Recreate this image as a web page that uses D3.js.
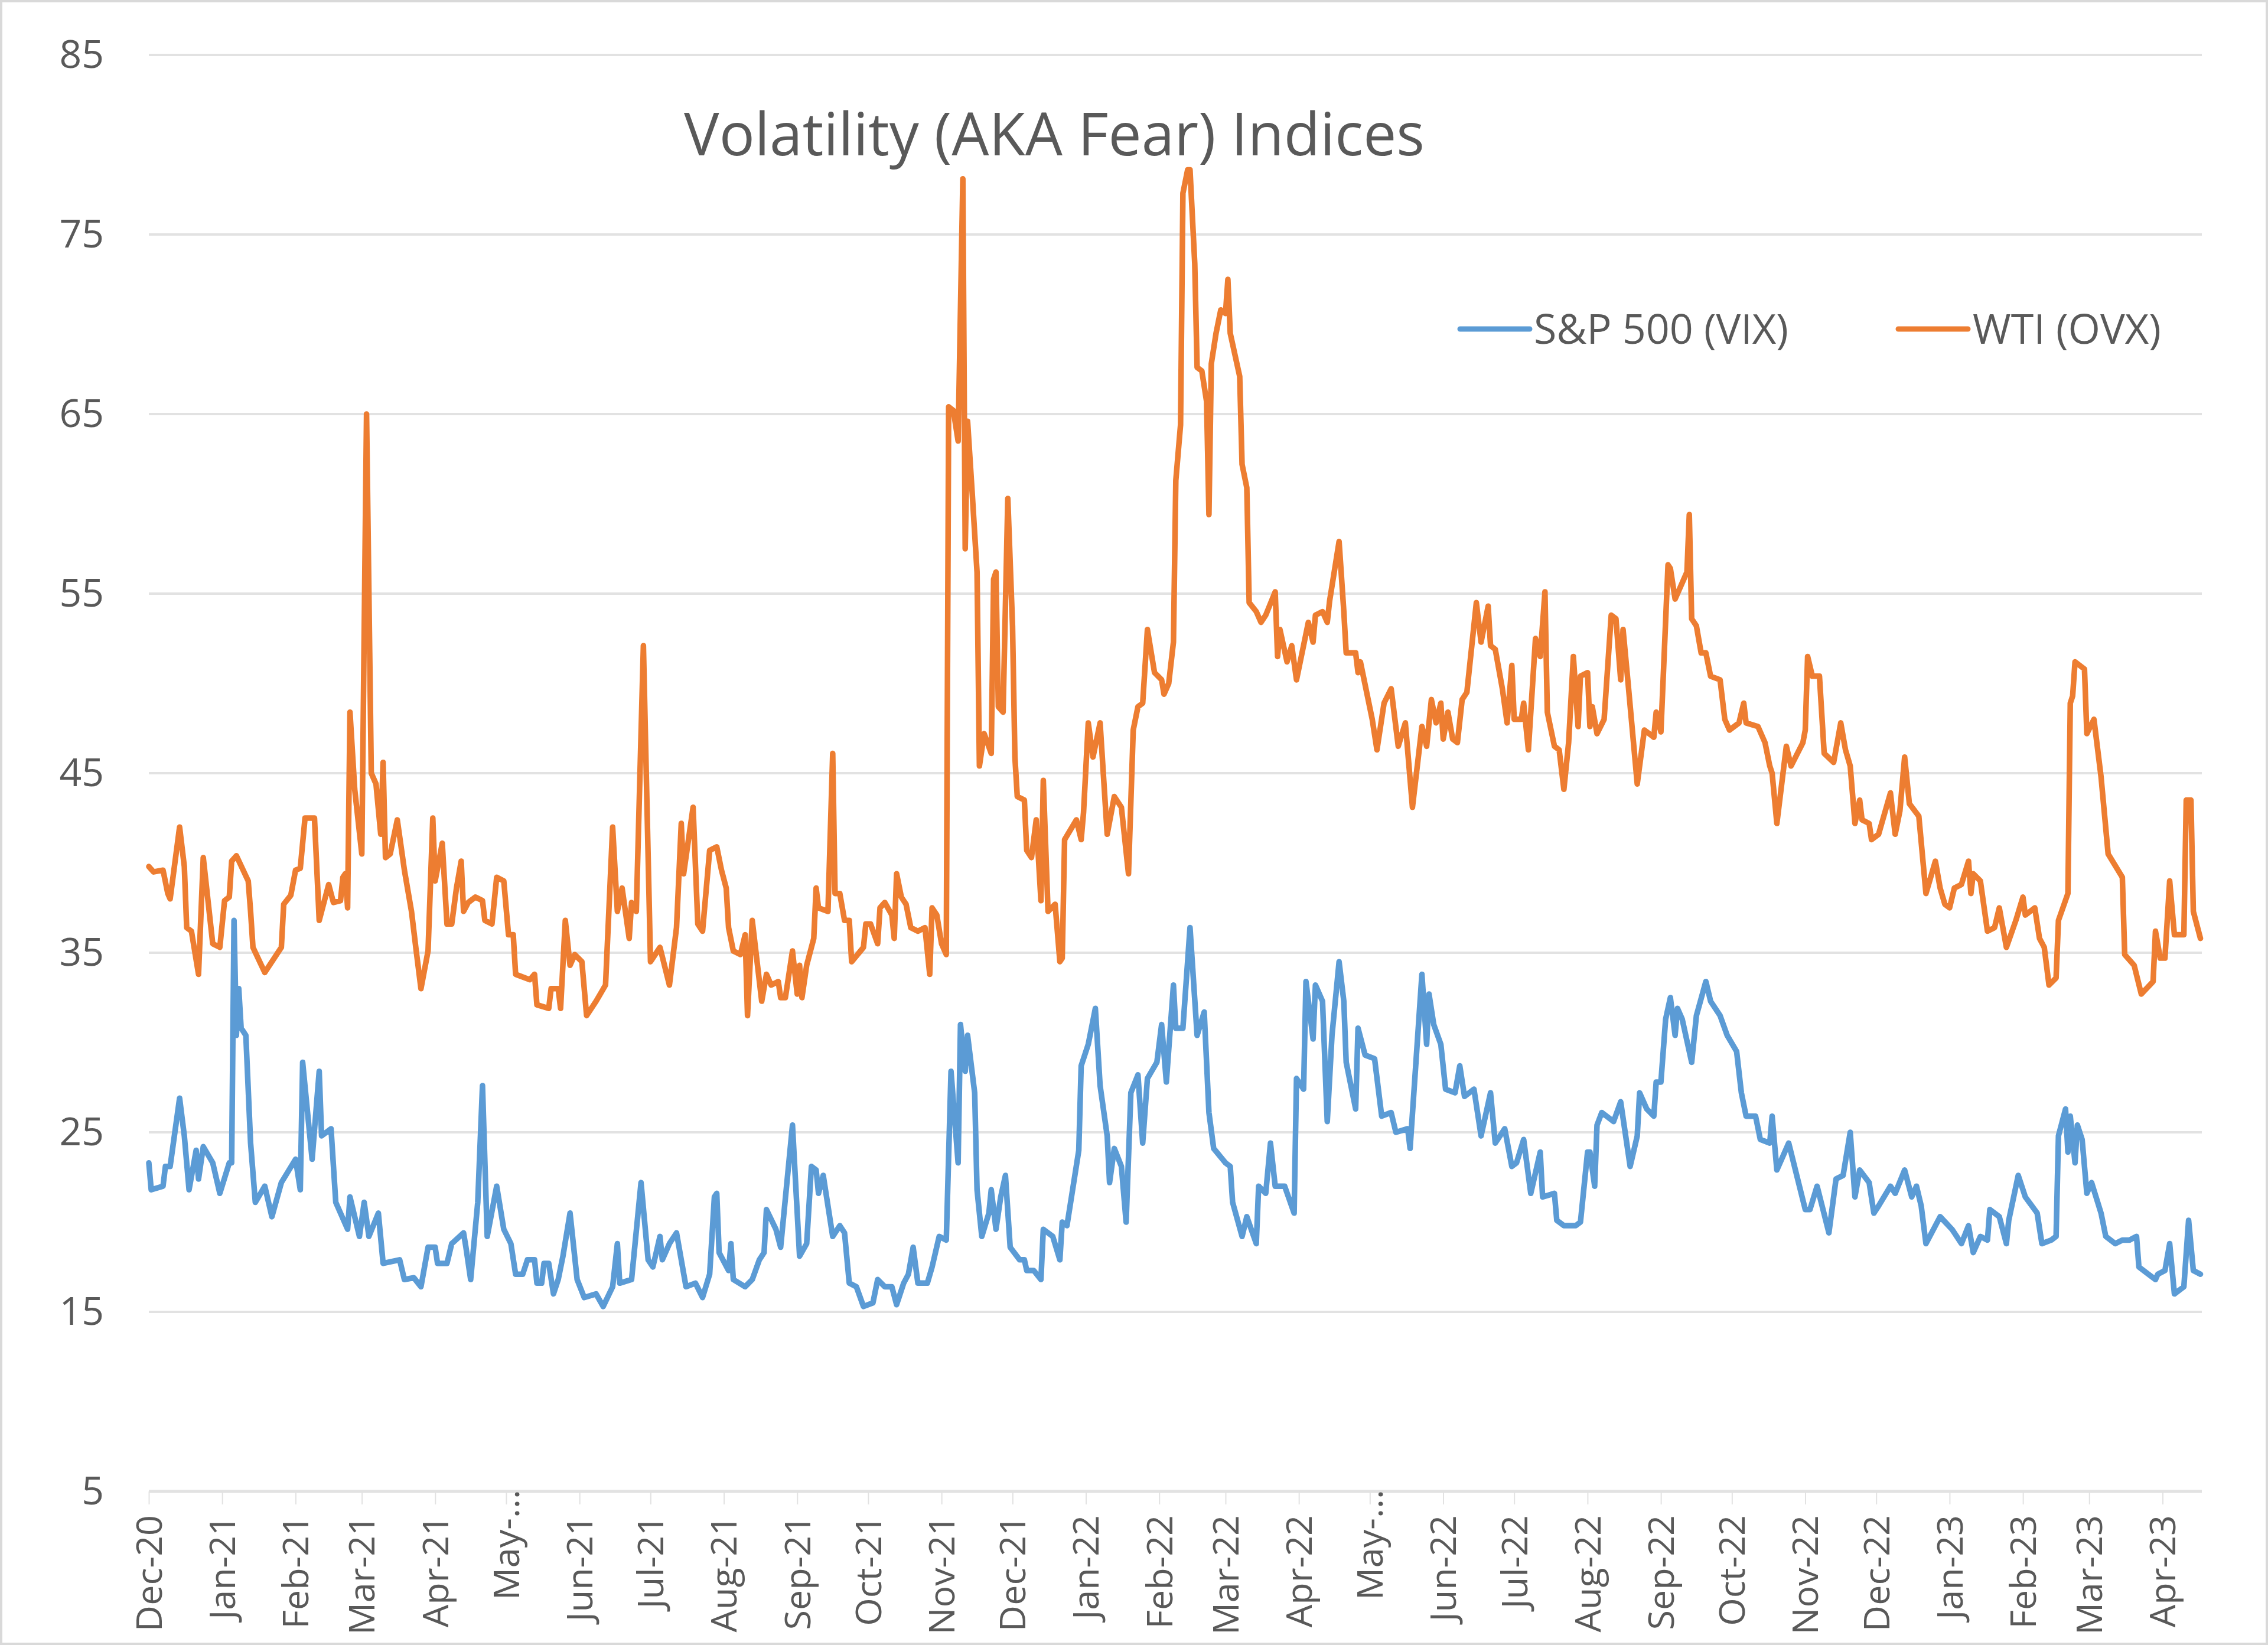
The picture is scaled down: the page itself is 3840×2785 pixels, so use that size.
<!DOCTYPE html>
<html><head><meta charset="utf-8">
<script src="https://cdn.jsdelivr.net/npm/d3@7"></script>
<style>body{margin:0;background:#fff}svg{display:block}</style>
</head><body>
<svg id="chart" width="3840" height="2785"></svg>
<script>
// ---------- data ----------
const chartTitle = "Volatility (AKA Fear) Indices";
const seriesNames = ["S&P 500 (VIX)", "WTI (OVX)"];
const baseDate = "2020-12-01";          // day 0 of the day offsets below
const lastDay = 867.6;                  // last plotted day offset
const yTicks = [5, 15, 25, 35, 45, 55, 65, 75, 85];
const monthLabels = ["Dec-20","Jan-21","Feb-21","Mar-21","Apr-21","May-...","Jun-21","Jul-21","Aug-21","Sep-21","Oct-21","Nov-21","Dec-21",
  "Jan-22","Feb-22","Mar-22","Apr-22","May-...","Jun-22","Jul-22","Aug-22","Sep-22","Oct-22","Nov-22","Dec-22","Jan-23","Feb-23","Mar-23","Apr-23"];

const vixDays = [0,1,6,7,9,13,15,17,20,21,23,27,30,34,35,36,37,38,39,41,43,45,49,52,56,62,64,65,69,72,73,77,79,84,85,89,91,93,97,99,106,108,112,115,118,121,122,126,128,133,134,136,139,141,143,147,
150,153,155,158,160,163,164,166,167,169,171,173,175,178,181,184,189,192,196,198,199,204,208,211,213,216,217,220,223,227,231,234,237,239,240,241,245,246,247,252,255,258,260,261,265,267,272,275,278,280,282,283,285,289,292,294,296,299,
302,306,308,311,314,316,319,321,323,325,329,331,334,337,339,342,343,345,346,349,350,352,355,356,358,360,362,364,368,370,371,374,377,378,382,385,386,388,393,394,397,400,402,405,406,408,411,413,415,418,420,422,426,428,430,433,434,437,440,443,446,448,
450,455,457,458,462,464,468,469,472,474,476,480,484,485,488,489,492,493,496,498,500,503,505,506,510,511,514,518,521,525,527,532,533,538,540,541,543,546,548,552,554,556,560,563,567,569,573,576,578,581,584,588,589,594,595,598,
603,605,608,609,611,612,614,619,622,626,629,630,633,636,637,639,641,643,645,646,648,652,654,658,660,664,667,671,673,675,679,681,685,686,688,693,700,702,705,710,713,716,719,721,723,727,729,731,736,738,
742,745,747,749,751,757,762,766,769,771,774,777,778,782,785,786,790,793,798,800,804,806,807,810,811,812,814,815,817,819,821,825,827,831,834,837,840,841,845,848,849,852,854,856,860,862,864,867];
const vixValues = [23.3,21.8,22.0,23.1,23.1,26.9,24.8,21.8,24.0,22.4,24.2,23.3,21.6,23.3,23.3,36.8,30.4,33.0,30.8,30.4,24.4,21.1,22.0,20.3,22.2,23.5,21.8,28.9,23.5,28.4,24.8,25.2,21.1,19.6,21.4,19.2,21.1,19.2,20.5,17.7,17.9,16.8,16.9,16.4,18.6,18.6,17.7,17.7,18.8,19.4,18.6,16.8,21.1,27.6,19.2,22.0,
19.6,18.8,17.1,17.1,17.9,17.9,16.6,16.6,17.7,17.7,16.0,16.8,18.1,20.5,16.8,15.8,16.0,15.3,16.4,18.8,16.6,16.8,22.2,17.9,17.5,19.2,17.9,18.8,19.4,16.4,16.6,15.8,17.1,21.4,21.6,18.3,17.3,18.8,16.8,16.4,16.8,17.9,18.3,20.7,19.6,18.6,25.4,18.1,18.8,23.1,22.9,21.6,22.6,19.2,19.8,19.4,16.6,16.4,
15.3,15.5,16.8,16.4,16.4,15.4,16.6,17.1,18.6,16.6,16.6,17.5,19.2,19.0,28.4,23.3,31.0,28.4,30.4,27.2,21.8,19.2,20.5,21.8,19.6,21.4,22.6,18.6,17.9,17.9,17.3,17.3,16.8,19.6,19.2,17.9,20.0,19.8,24.0,28.7,29.9,31.9,27.6,24.8,22.2,24.1,23.1,20.0,27.2,28.2,24.4,28.0,28.9,31.0,27.8,33.2,30.8,30.8,36.4,30.4,31.7,26.1,
24.1,23.3,23.1,21.1,19.2,20.3,18.8,22.0,21.6,24.4,22.0,22.0,20.5,28.0,27.4,33.4,30.2,33.2,32.3,25.6,30.4,34.5,32.3,28.9,26.3,30.8,29.3,29.1,25.9,26.1,25.0,25.2,24.1,33.8,29.9,32.7,31.0,29.9,27.4,27.2,28.7,27.0,27.4,24.8,27.2,24.4,25.2,23.1,23.3,24.6,21.6,23.9,21.4,21.6,20.1,19.8,
19.8,20.0,23.9,23.9,22.0,25.4,26.1,25.6,26.7,23.1,24.8,27.2,26.3,25.9,27.8,27.8,31.3,32.5,30.4,31.9,31.3,28.9,31.5,33.4,32.3,31.5,30.4,29.5,27.2,25.9,25.9,24.6,24.4,25.9,22.9,24.4,20.7,20.7,22.0,19.4,22.4,22.6,25.0,21.4,22.9,22.2,20.5,20.9,22.0,21.6,
22.9,21.4,22.0,20.9,18.8,20.3,19.6,18.8,19.8,18.3,19.2,19.0,20.7,20.3,18.8,20.1,22.6,21.4,20.5,18.8,19.0,19.2,24.8,26.3,23.9,25.9,23.3,25.4,24.6,21.6,22.2,20.5,19.2,18.8,19.0,19.0,19.2,17.5,17.1,16.8,17.1,17.3,18.8,16.0,16.4,20.1,17.3,17.1];

const ovxDays = [0,2,6,8,9,13,15,16,18,21,23,27,30,32,34,35,37,42,43,44,49,56,57,60,62,64,66,70,72,76,78,81,82,83,84,85,87,90,92,94,96,98,99,100,102,105,108,111,113,115,118,120,121,124,126,128,130,132,133,135,138,141,142,145,147,
150,152,154,155,161,163,164,169,170,173,174,176,178,180,183,185,189,193,196,198,200,203,204,206,209,212,216,220,223,225,226,230,232,234,237,240,242,244,245,247,250,252,253,255,259,261,263,266,267,269,272,274,275,276,278,281,282,283,287,289,290,292,294,296,297,
302,303,305,308,309,311,314,315,316,318,320,322,325,328,330,331,333,335,337,338,340,342,344,345,346,348,350,351,353,356,357,358,359,361,363,365,366,367,370,371,373,375,377,378,380,383,385,386,387,392,394,395,397,399,402,405,408,411,414,416,418,420,422,425,428,429,431,433,434,436,437,439,440,442,443,445,447,448,449,451,
453,455,456,457,461,462,464,465,468,470,472,476,477,478,481,483,485,490,492,493,496,498,499,503,505,506,510,511,512,517,519,522,525,528,531,534,538,540,542,544,546,547,549,551,553,555,557,561,563,566,567,569,572,574,576,577,580,581,583,586,588,590,591,594,596,598,
600,602,604,605,608,609,610,612,615,618,620,622,623,625,629,632,636,637,639,642,643,645,650,651,652,654,656,658,660,664,666,668,672,674,675,680,683,685,686,688,692,694,699,700,701,703,706,708,712,715,717,719,721,723,724,727,728,731,736,738,
740,742,744,748,751,755,757,759,761,763,766,769,770,771,774,777,780,782,785,789,792,793,797,799,801,803,806,807,811,812,813,814,818,819,822,825,828,834,835,839,842,847,848,850,852,854,856,858,860,861,863,864,867];
const ovxValues = [39.8,39.5,39.6,38.3,38.0,42.0,39.8,36.4,36.2,33.8,40.3,35.5,35.3,37.9,38.1,40.1,40.4,39.0,37.3,35.3,33.9,35.3,37.7,38.2,39.6,39.7,42.5,42.5,36.8,38.8,37.8,37.9,39.2,39.4,37.5,48.4,44.1,40.5,65.0,45.0,44.4,41.6,45.6,40.3,40.5,42.4,39.6,37.3,35.1,33.0,35.1,42.5,39.0,41.1,36.6,36.6,38.6,40.1,37.3,37.8,38.1,37.9,36.8,36.6,39.2,
39.0,36.0,36.0,33.8,33.5,33.8,32.1,31.9,33.0,33.0,31.9,36.8,34.3,34.9,34.5,31.5,32.3,33.2,42.0,37.3,38.6,35.8,37.8,37.3,52.1,34.5,35.3,33.2,36.4,42.2,39.4,43.1,36.6,36.2,40.7,40.9,39.6,38.6,36.4,35.1,34.9,36.0,31.5,36.8,32.3,33.8,33.2,33.4,32.5,32.5,35.1,32.7,34.3,32.5,34.3,35.8,38.6,37.5,37.3,46.1,38.3,38.3,36.8,36.8,34.5,
35.3,36.6,36.6,35.5,37.5,37.8,37.1,35.8,39.4,38.1,37.7,36.4,36.2,36.4,33.8,37.5,37.1,35.5,34.9,65.4,65.2,63.5,78.1,57.5,64.6,60.5,56.2,45.4,47.2,46.1,55.8,56.2,48.7,48.4,60.3,53.2,45.9,43.7,43.5,40.7,40.3,42.4,37.9,44.6,37.3,37.7,34.5,34.7,41.3,42.4,41.3,42.8,47.8,45.9,47.8,41.6,43.7,43.1,39.4,47.4,48.7,48.9,53.0,50.6,50.2,49.4,50.0,52.3,61.3,64.4,77.3,78.6,78.6,73.4,67.6,67.4,65.7,59.4,67.8,69.5,
70.8,70.6,72.5,69.5,67.1,62.2,60.9,54.5,54.0,53.4,53.8,55.1,51.5,53.0,51.2,52.1,50.2,53.4,52.3,53.8,54.0,53.4,54.6,57.9,54.0,51.7,51.7,50.6,51.2,48.0,46.3,48.9,49.7,46.5,47.8,43.1,47.6,46.5,49.1,47.8,48.9,46.9,48.4,46.9,46.7,49.1,49.5,54.5,52.3,54.3,52.1,51.9,49.7,47.8,51.0,48.0,48.0,48.9,46.3,52.5,51.5,55.1,48.4,46.5,46.3,44.1,
46.7,51.5,47.6,50.4,50.6,47.6,48.7,47.2,48.0,53.8,53.6,50.2,53.0,50.2,44.4,47.4,47.0,48.4,47.3,56.6,56.4,54.7,56.2,59.4,53.6,53.2,51.7,51.7,50.4,50.2,48.0,47.4,47.8,48.9,47.8,47.6,46.7,45.4,45.0,42.2,46.5,45.4,46.7,47.4,51.5,50.4,50.4,46.1,45.6,47.8,46.3,45.4,42.2,43.5,42.4,42.2,41.3,41.6,43.9,41.6,
42.9,45.9,43.3,42.6,38.3,40.1,38.6,37.7,37.5,38.6,38.8,40.1,38.3,39.4,39.0,36.2,36.4,37.5,35.3,36.8,38.1,37.1,37.5,35.8,35.3,33.2,33.6,36.8,38.3,48.9,49.3,51.2,50.8,47.2,48.0,44.8,40.5,39.2,34.9,34.3,32.7,33.4,36.2,34.7,34.7,39.0,36.0,36.0,36.0,43.5,43.5,37.3,35.8];

// ---------- drawing ----------
const svg = d3.select("#chart");
const W = 3840, H = 2785;
const m = {left: 252, right: 3728, top: 93, bottom: 2525};
const font = "'Open Sans', 'Noto Sans', sans-serif";
const textColor = "#595959";
const gridColor = "#e2e2e2";
const colors = ["#5B9BD5", "#ED7D31"];

svg.append("rect").attr("x", 0).attr("y", 0).attr("width", W).attr("height", H).attr("fill", "#fff");
svg.append("rect").attr("x", 2).attr("y", 2).attr("width", W - 4).attr("height", H - 4)
  .attr("fill", "none").attr("stroke", "#d9d9d9").attr("stroke-width", 4);

const t0 = d3.isoParse(baseDate + "T00:00:00Z");
const dayToDate = d => new Date(t0.getTime() + d * 86400000);
const x = d3.scaleUtc().domain([t0, dayToDate(lastDay)]).range([m.left, m.right]);
const y = d3.scaleLinear().domain([5, 85]).range([m.bottom, m.top]);

// gridlines
svg.append("g").selectAll("line").data(yTicks.filter(v => v !== 5)).join("line")
  .attr("x1", m.left).attr("x2", m.right)
  .attr("y1", d => y(d)).attr("y2", d => y(d))
  .attr("stroke", gridColor).attr("stroke-width", 4);

// y axis labels
const yAxis = d3.axisLeft(y).tickValues(yTicks).tickSize(0).tickPadding(0).tickFormat(d3.format("d"));
const gy = svg.append("g").attr("transform", `translate(${m.left - 76},0)`).call(yAxis);
gy.select(".domain").remove();
gy.selectAll("text").attr("font-family", font).attr("font-size", 66).attr("fill", textColor);

// x axis
const monthTicks = d3.utcMonth.range(t0, dayToDate(lastDay));
const xAxis = d3.axisBottom(x).tickValues(monthTicks).tickSize(22).tickFormat((d, i) => monthLabels[i]);
const gx = svg.append("g").attr("transform", `translate(0,${m.bottom})`).call(xAxis);
gx.select(".domain").attr("stroke", gridColor).attr("stroke-width", 5)
  .attr("d", `M${m.left},0H${m.right}`);
gx.selectAll(".tick line").attr("stroke", gridColor).attr("stroke-width", 2);
gx.selectAll(".tick text")
  .attr("font-family", font).attr("font-size", 61).attr("fill", textColor)
  .attr("text-anchor", "end")
  .attr("transform", (d, i) => `translate(0,${monthLabels[i].endsWith("...") ? -3 : 40}) rotate(-90)`)
  .attr("x", 0).attr("y", 0).attr("dy", "0.35em");

// lines
const line = d3.line().x(d => x(dayToDate(d[0]))).y(d => y(d[1])).curve(d3.curveLinear);
const series = [
  {name: seriesNames[0], pts: vixDays.map((d, i) => [d, vixValues[i]]), color: colors[0]},
  {name: seriesNames[1], pts: ovxDays.map((d, i) => [d, ovxValues[i]]), color: colors[1]}
];
svg.append("g").selectAll("path").data(series).join("path")
  .attr("d", s => line(s.pts)).attr("fill", "none")
  .attr("stroke", s => s.color).attr("stroke-width", 9.5)
  .attr("stroke-linejoin", "round").attr("stroke-linecap", "round");

// title
svg.append("text").attr("x", 1785).attr("y", 263).attr("text-anchor", "middle")
  .attr("font-family", font).attr("font-size", 100).attr("fill", textColor)
  .text(chartTitle);

// legend
const legendItems = [
  {name: seriesNames[0], color: colors[0], x1: 2472, x2: 2590, tx: 2597},
  {name: seriesNames[1], color: colors[1], x1: 3214, x2: 3332, tx: 3340}
];
const lg = svg.append("g");
legendItems.forEach(it => {
  lg.append("line").attr("x1", it.x1).attr("x2", it.x2).attr("y1", 557).attr("y2", 557)
    .attr("stroke", it.color).attr("stroke-width", 9).attr("stroke-linecap", "round");
  lg.append("text").attr("x", it.tx).attr("y", 557).attr("dy", "0.35em")
    .attr("font-family", font).attr("font-size", 70).attr("fill", textColor).text(it.name);
});
</script>
</body></html>
